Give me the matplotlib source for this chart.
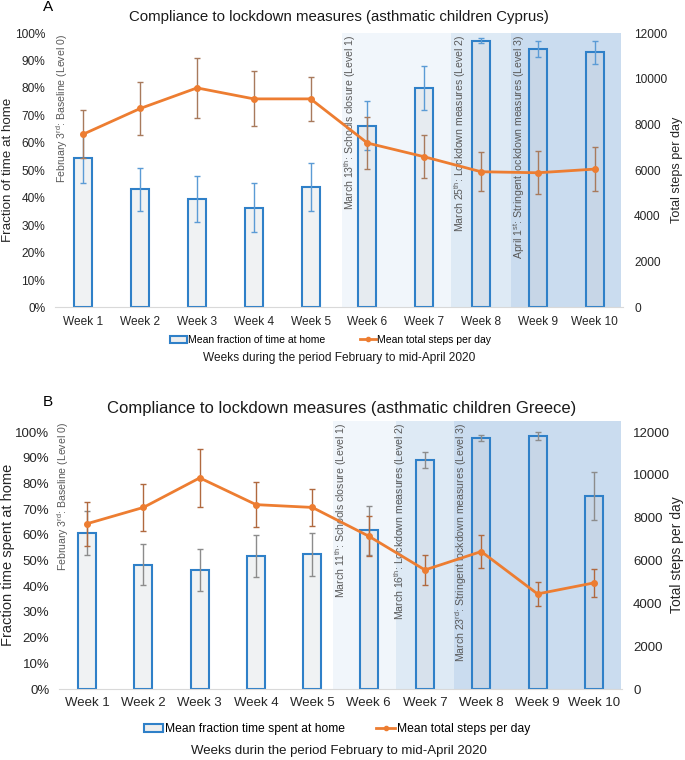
import numpy as np
import matplotlib
matplotlib.use('Agg')
import matplotlib.pyplot as plt
from matplotlib.patches import Patch
from matplotlib.lines import Line2D

plt.rcParams['font.family'] = ['Liberation Sans', 'DejaVu Sans']
plt.rcParams['mathtext.fontset'] = 'custom'
plt.rcParams['mathtext.rm'] = 'Liberation Sans'
plt.rcParams['mathtext.it'] = 'Liberation Sans'

weeks = ['Week 1', 'Week 2', 'Week 3', 'Week 4', 'Week 5',
         'Week 6', 'Week 7', 'Week 8', 'Week 9', 'Week 10']

# Cyprus
cy_home = [54.3, 43.0, 39.5, 36.4, 43.8, 66.3, 79.8, 97.2, 94.2, 93.0]
cy_home_err = [8.8, 7.7, 8.3, 8.9, 8.8, 9.0, 8.0, 1.0, 3.0, 4.2]
cy_steps = [7580, 8700, 9600, 9120, 9120, 7190, 6590, 5935, 5890, 6050]
cy_steps_err = [1040, 1165, 1320, 1200, 975, 1140, 940, 860, 950, 975]
cy_events = ['February 3$^{\\mathrm{rd}}$: Baseline (Level 0)',
             'March 13$^{\\mathrm{th}}$: Schools closure (Level 1)',
             'March 25$^{\\mathrm{th}}$: Lockdown measures (Level 2)',
             'April 1$^{\\mathrm{st}}$: Stringent lockdown measures (Level 3)']

# Greece
gr_home = [60.7, 48.4, 46.4, 51.6, 52.5, 61.7, 89.1, 97.7, 98.6, 75.1]
gr_home_err = [8.6, 8.0, 8.2, 8.2, 8.4, 9.6, 3.1, 1.0, 1.6, 9.4]
gr_steps = [7720, 8480, 9860, 8610, 8480, 7140, 5560, 6420, 4440, 4955]
gr_steps_err = [1030, 1090, 1350, 1040, 870, 950, 700, 760, 560, 650]
gr_events = ['February 3$^{\\mathrm{rd}}$: Baseline (Level 0)',
             'March 11$^{\\mathrm{th}}$: Schools closure (Level 1)',
             'March 16$^{\\mathrm{th}}$: Lockdown measures (Level 2)',
             'March 23$^{\\mathrm{rd}}$: Stringent lockdown measures (Level 3)']

shade_cols = ['#f1f6fb', '#deeaf5', '#cadcef']
bar_edge = '#2f80c8'
orange = '#ed7d31'
W, H = 685, 760


def panel(ax, home, home_err, steps, steps_err, events, ev_x, spans, ytop, fs,
          title, title_size, title_x, title_y, ylabel, xlabel, leg_labels, leg_fs,
          leg_sp, bar_err_col, line_err_col, letter, letter_y, leg_x, leg_y, xl_y):
    x = np.arange(len(weeks))
    for (a, b), c in zip(spans, shade_cols):
        ax.axvspan(a, b, color=c, zorder=0, lw=0)
    ax.bar(x, np.array(home) / 100, width=0.32, facecolor=(0.75, 0.77, 0.8, 0.22),
           edgecolor=bar_edge, linewidth=1.5, zorder=2)
    ax.errorbar(x, np.array(home) / 100, yerr=np.array(home_err) / 100, fmt='none',
                ecolor=bar_err_col, elinewidth=1, capsize=2.5, capthick=1, zorder=3)
    ax.set_xlim(-0.5, 9.5)
    ax.set_ylim(0, ytop)
    ax.set_yticks(np.arange(0, 1.01, 0.1))
    ax.set_yticklabels([f'{int(round(v * 100))}%' for v in np.arange(0, 1.01, 0.1)])
    ax.set_xticks(x)
    ax.set_xticklabels(weeks)
    ax.tick_params(length=0, labelsize=fs, colors='#262626', pad=6)
    ax.tick_params(axis='y', pad=7)
    for s in ['top', 'right', 'left']:
        ax.spines[s].set_visible(False)
    ax.spines['bottom'].set_color('#d9d9d9')

    for t, xe in zip(events, ev_x):
        ax.text(xe, 0.995, t, transform=ax.get_xaxis_transform(), rotation=90,
                ha='center', va='top', fontsize=7.6, color='#595959', zorder=4)

    ax2 = ax.twinx()
    ax2.errorbar(x, steps, yerr=steps_err, fmt='none', ecolor=line_err_col,
                 elinewidth=1, capsize=2.5, capthick=1, zorder=3)
    ax2.plot(x, steps, color=orange, lw=2, marker='o', ms=4, zorder=4)
    ax2.set_ylim(0, 12000 * ytop)
    ax2.set_yticks(np.arange(0, 12001, 2000))
    ax2.tick_params(length=0, labelsize=fs, colors='#262626', pad=8)
    for s in ['top', 'right', 'left', 'bottom']:
        ax2.spines[s].set_visible(False)

    fig = ax.figure
    bb = ax.get_position()
    ymid = 0.5 * (bb.y0 + bb.y1)
    fig.text(8 / W, ymid, ylabel, rotation=90, ha='center', va='center',
             fontsize=fs + 1, color='#262626')
    fig.text(677 / W, ymid, 'Total steps per day', rotation=90, ha='center',
             va='center', fontsize=fs + 0.5, color='#262626')
    fig.text(title_x / W, 1 - title_y / H, title, ha='center',
             va='center', fontsize=title_size, color='#1a1a1a')
    fig.text(48 / W, 1 - letter_y / H, letter, fontsize=11, ha='center', va='center')

    handles = [Patch(facecolor='#eeeeee', edgecolor=bar_edge, linewidth=1.5),
               Line2D([], [], color=orange, lw=2, marker='o', ms=3)]
    fig.legend(handles, leg_labels, loc='center', bbox_to_anchor=(leg_x, 1 - leg_y / H),
               ncol=2, frameon=False, fontsize=leg_fs, handlelength=1.6,
               handletextpad=0.1, columnspacing=leg_sp, borderpad=0)
    fig.text(0.495, 1 - xl_y / H, xlabel, ha='center', va='center', fontsize=fs,
             color='#1a1a1a')


fig = plt.figure(figsize=(W / 100, H / 100), dpi=100)
ax_a = fig.add_axes([55 / W, 1 - 307.5 / H, 568 / W, 274.5 / H])
ax_b = fig.add_axes([59 / W, 1 - 689 / H, 563 / W, 268 / H])

panel(ax_a, cy_home, cy_home_err, cy_steps, cy_steps_err, cy_events,
      [-0.38, 4.69, 6.63, 7.67], [(4.55, 6.48), (6.48, 7.53), (7.53, 9.46)], 1.0, 8.6,
      'Compliance to lockdown measures (asthmatic children Cyprus)', 10.8, 339, 17,
      'Fraction of time at home', 'Weeks during the period February to mid-April 2020',
      ['Mean fraction of time at home', 'Mean total steps per day'], 7.5, 3.3,
      '#5b9bd5', '#a87a5c', 'A', 7, 0.483, 340, 358)

panel(ax_b, gr_home, gr_home_err, gr_steps, gr_steps_err, gr_events,
      [-0.43, 4.51, 5.56, 6.64], [(4.37, 5.48), (5.48, 6.52), (6.52, 9.48)], 1.043, 9.5,
      'Compliance to lockdown measures (asthmatic children Greece)', 12, 342, 409,
      'Fraction time spent at home', 'Weeks durin the period February to mid-April 2020',
      ['Mean fraction time spent at home', 'Mean total steps per day'], 8.7, 2.6,
      '#8c8c8c', '#b0693f', 'B', 402, 0.492, 729, 751)

fig.savefig('out.png', dpi=100)
